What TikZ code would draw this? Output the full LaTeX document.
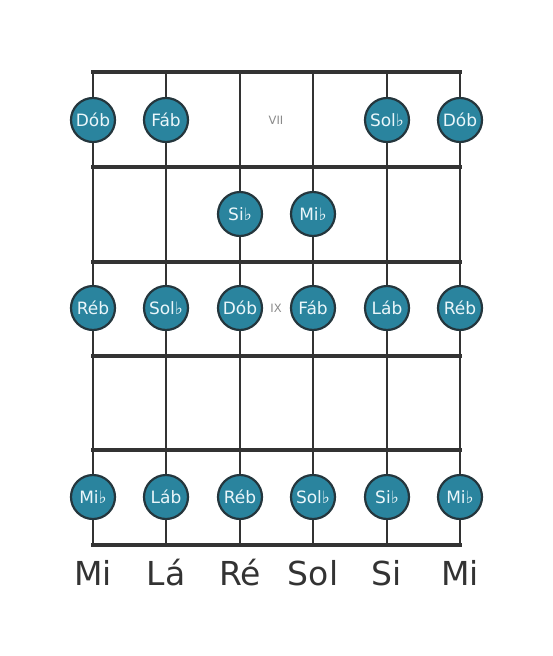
\documentclass[tikz,border=0pt]{standalone}
\usepackage{fontspec}
\setmainfont{DejaVu Sans}
\definecolor{linec}{HTML}{333333}
\definecolor{notefill}{HTML}{2A849E}
\definecolor{noteedge}{HTML}{24363D}
\definecolor{notetext}{HTML}{EAF6FA}
\definecolor{fretlbl}{HTML}{8A8A8A}
\begin{document}
\begin{tikzpicture}[x=1pt,y=-1pt,
  fretline/.style={draw=linec,line width=4pt},
  stringline/.style={draw=linec,line width=2.6pt},
  note/.style={circle,draw=noteedge,line width=2.2pt,fill=notefill,minimum size=44pt,inner sep=0pt,text=notetext,font=\fontsize{17}{17}\selectfont},
  strlbl/.style={text=linec,font=\fontsize{33}{33}\selectfont,anchor=center},
  fretnum/.style={text=fretlbl,font=\fontsize{11.5}{11.5}\selectfont}]
\useasboundingbox (0,0) rectangle (553,656);
% coordinates
\foreach \i/\x in {1/93,2/166,3/240,4/313,5/387,6/460}{
  \coordinate (t\i) at (\x,72);
  \coordinate (b\i) at (\x,545);
}
\foreach \i/\x in {1/93,2/166,3/240,4/313,5/387,6/460}{
  \draw[stringline] (t\i) -- (b\i);
}
\foreach \y in {72,167,262,356,450,545}{
  \coordinate (fl\y) at (91,\y);
  \coordinate (fr\y) at (462,\y);
  \draw[fretline] (fl\y) -- (fr\y);
}
% fret numbers
\node[fretnum] (vii) at (276,120) {VII};
\node[fretnum] (ix) at (276,308) {IX};
% notes row 1
\node[note] (n11) at (93,120) {Dób};
\node[note] (n12) at (166,120) {Fáb};
\node[note] (n15) at (387,120) {Sol♭};
\node[note] (n16) at (460,120) {Dób};
% row 2
\node[note] (n23) at (240,214) {Si♭};
\node[note] (n24) at (313,214) {Mi♭};
% row 3
\node[note] (n31) at (93,308) {Réb};
\node[note] (n32) at (166,308) {Sol♭};
\node[note] (n33) at (240,308) {Dób};
\node[note] (n34) at (313,308) {Fáb};
\node[note] (n35) at (387,308) {Láb};
\node[note] (n36) at (460,308) {Réb};
% row 5
\node[note] (n51) at (93,497) {Mi♭};
\node[note] (n52) at (166,497) {Láb};
\node[note] (n53) at (240,497) {Réb};
\node[note] (n54) at (313,497) {Sol♭};
\node[note] (n55) at (387,497) {Si♭};
\node[note] (n56) at (460,497) {Mi♭};
% string names
\node[strlbl] (s1) at (93,573) {Mi};
\node[strlbl] (s2) at (166,573) {Lá};
\node[strlbl] (s3) at (240,573) {Ré};
\node[strlbl] (s4) at (313,573) {Sol};
\node[strlbl] (s5) at (387,573) {Si};
\node[strlbl] (s6) at (460,573) {Mi};
\end{tikzpicture}
\end{document}
